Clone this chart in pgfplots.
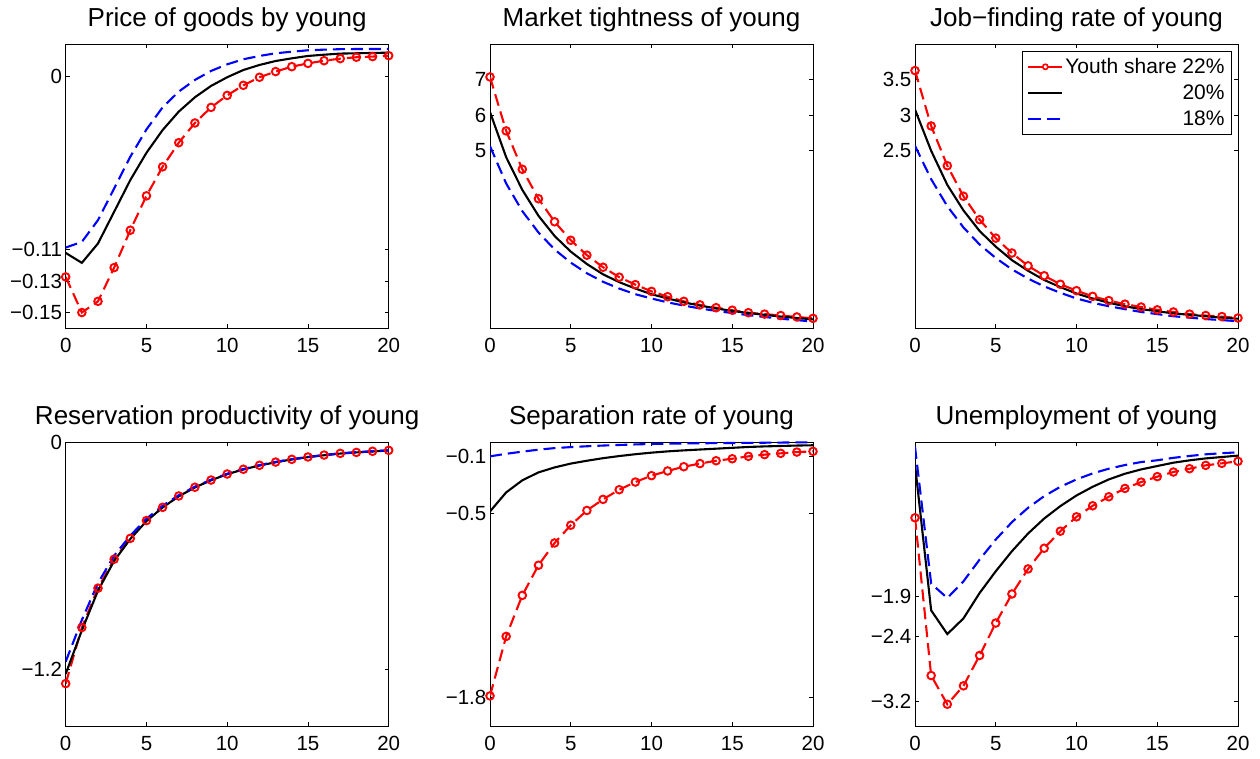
\documentclass[border=0pt]{standalone}
\usepackage{fontspec}
\setmainfont{Liberation Sans}
\usepackage{pgfplots}
\pgfplotsset{compat=1.18}
\pgfplotsset{
 panel/.style={
  width=323pt, height=284pt, scale only axis, anchor=south west,
  xmin=0, xmax=20, xtick={0,5,10,15,20},
  tick align=inside, major tick length=4pt,
  axis line style={line width=0.9pt},
  every tick/.style={black, line width=0.8pt},
  ticklabel style={font=\fontsize{20.5}{24}\selectfont, inner sep=0pt},
  xticklabel style={yshift=-9.7pt},
  yticklabel style={xshift=-3.5pt},
  every axis title shift=0pt,
  title style={font=\fontsize{26}{30}\selectfont, at={(0.5,1)}, anchor=base, yshift=17.5pt, inner sep=0pt},
  /pgf/number format/assume math mode=true,
 },
 rr/.style={red, line width=2.1pt, dash pattern=on 12pt off 6pt, mark=o, mark size=3.8pt, mark options={solid, line width=1.9pt}},
 kk/.style={black, line width=2.1pt, solid, mark=none},
 bb/.style={blue, line width=2.1pt, dash pattern=on 12pt off 6pt, mark=none},
}
\begin{document}
\begin{tikzpicture}
\path[use as bounding box] (0pt,0pt) rectangle (1260pt,758pt);

% Panel 1
\begin{axis}[panel, at={(65.7pt,429.7pt)}, title={Price of goods by young},
  ymin=-0.16, ymax=0.0201, ytick={-0.15,-0.13,-0.11,0}, yticklabels={−0.15,−0.13,−0.11,0}]
\addplot[rr] coordinates {(0,-0.1274) (1,-0.150) (2,-0.1429) (3,-0.1215) (4,-0.0978) (5,-0.076) (6,-0.0576) (7,-0.0423) (8,-0.0298) (9,-0.0199) (10,-0.0123) (11,-0.0059) (12,-0.0008) (13,0.0028) (14,0.0059) (15,0.008) (16,0.0097) (17,0.011) (18,0.0119) (19,0.0123) (20,0.0129)};
\addplot[kk] coordinates {(0,-0.1122) (1,-0.1185) (2,-0.1062) (3,-0.0861) (4,-0.066) (5,-0.0487) (6,-0.0343) (7,-0.0226) (8,-0.0135) (9,-0.0063) (10,-0.0008) (11,0.0038) (12,0.007) (13,0.0095) (14,0.0112) (15,0.0127) (16,0.0135) (17,0.0142) (18,0.0144) (19,0.0146) (20,0.0148)};
\addplot[bb] coordinates {(0,-0.1088) (1,-0.1052) (2,-0.0914) (3,-0.0713) (4,-0.0512) (5,-0.0339) (6,-0.0199) (7,-0.0099) (8,-0.0025) (9,0.0032) (10,0.0074) (11,0.0106) (12,0.0127) (13,0.0144) (14,0.0154) (15,0.0163) (16,0.0167) (17,0.0170) (18,0.0171) (19,0.0171) (20,0.0171)};
\end{axis}

% Panel 2
\begin{axis}[panel, at={(490pt,429.7pt)}, title={Market tightness of young},
  ymin=0, ymax=8, ytick={5,6,7}, yticklabels={5,6,7}]
\addplot[rr] coordinates {(0,7.08) (1,5.56) (2,4.48) (3,3.65) (4,3.0) (5,2.48) (6,2.06) (7,1.72) (8,1.44) (9,1.23) (10,1.04) (11,0.89) (12,0.76) (13,0.66) (14,0.58) (15,0.51) (16,0.44) (17,0.40) (18,0.36) (19,0.32) (20,0.28)};
\addplot[kk] coordinates {(0,6.09) (1,4.82) (2,3.90) (3,3.17) (4,2.60) (5,2.16) (6,1.81) (7,1.52) (8,1.30) (9,1.12) (10,0.96) (11,0.84) (12,0.73) (13,0.64) (14,0.56) (15,0.49) (16,0.43) (17,0.38) (18,0.33) (19,0.29) (20,0.25)};
\addplot[bb] coordinates {(0,5.13) (1,4.08) (2,3.30) (3,2.70) (4,2.22) (5,1.85) (6,1.55) (7,1.31) (8,1.12) (9,0.96) (10,0.84) (11,0.73) (12,0.64) (13,0.56) (14,0.49) (15,0.43) (16,0.37) (17,0.32) (18,0.27) (19,0.23) (20,0.19)};
\end{axis}

% Panel 3
\begin{axis}[panel, at={(915pt,429.7pt)}, title={Job−finding rate of young},
  ymin=0, ymax=4, ytick={2.5,3,3.5}, yticklabels={2.5,3,3.5},
  legend style={at={(1,1)}, anchor=north east, xshift=-6pt, yshift=-6.7pt, draw=black, line width=0.9pt,
    font=\fontsize{21}{24}\selectfont, inner sep=5pt, row sep=6pt, cells={anchor=west},
    nodes={inner sep=2pt}},
  legend image code/.code={\draw[#1, dash pattern=on 13pt off 5pt] (0pt,0pt) -- (34pt,0pt);}]
\addplot[rr, legend image code/.code={\draw[red, line width=2pt, solid] (0pt,0pt) -- (34pt,0pt); \draw[red, line width=1.6pt, solid, fill=white] (17pt,0pt) circle (2.6pt);}] coordinates {(0,3.63) (1,2.85) (2,2.29) (3,1.86) (4,1.53) (5,1.27) (6,1.06) (7,0.88) (8,0.74) (9,0.62) (10,0.53) (11,0.45) (12,0.39) (13,0.34) (14,0.30) (15,0.26) (16,0.23) (17,0.20) (18,0.18) (19,0.165) (20,0.145)};
\addlegendentry{Youth share 22\%}
\addplot[kk, legend image code/.code={\draw[black, line width=2.1pt, solid] (0pt,0pt) -- (34pt,0pt);}] coordinates {(0,3.08) (1,2.50) (2,2.02) (3,1.66) (4,1.37) (5,1.15) (6,0.96) (7,0.81) (8,0.68) (9,0.58) (10,0.49) (11,0.42) (12,0.36) (13,0.31) (14,0.27) (15,0.24) (16,0.21) (17,0.19) (18,0.17) (19,0.15) (20,0.135)};
\addlegendentry{\hphantom{Youth share }20\%}
\addplot[bb, legend image code/.code={\draw[blue, line width=2.1pt, dash pattern=on 13pt off 6pt] (0pt,0pt) -- (34pt,0pt);}] coordinates {(0,2.57) (1,2.10) (2,1.72) (3,1.42) (4,1.18) (5,0.99) (6,0.83) (7,0.70) (8,0.59) (9,0.50) (10,0.42) (11,0.36) (12,0.31) (13,0.27) (14,0.23) (15,0.20) (16,0.17) (17,0.15) (18,0.13) (19,0.115) (20,0.10)};
\addlegendentry{\hphantom{Youth share }18\%}
\end{axis}

% Panel 4
\begin{axis}[panel, at={(65.7pt,32pt)}, title={Reservation productivity of young},
  ymin=-1.5, ymax=0, ytick={-1.2,0}, yticklabels={−1.2,0}]
\addplot[rr] coordinates {(0,-1.276) (1,-0.980) (2,-0.772) (3,-0.619) (4,-0.509) (5,-0.415) (6,-0.345) (7,-0.285) (8,-0.239) (9,-0.201) (10,-0.169) (11,-0.144) (12,-0.123) (13,-0.106) (14,-0.0915) (15,-0.079) (16,-0.069) (17,-0.060) (18,-0.055) (19,-0.049) (20,-0.044)};
\addplot[kk] coordinates {(0,-1.225) (1,-0.995) (2,-0.785) (3,-0.628) (4,-0.512) (5,-0.418) (6,-0.346) (7,-0.287) (8,-0.240) (9,-0.202) (10,-0.170) (11,-0.145) (12,-0.124) (13,-0.107) (14,-0.092) (15,-0.080) (16,-0.070) (17,-0.061) (18,-0.055) (19,-0.050) (20,-0.045)};
\addplot[bb] coordinates {(0,-1.16) (1,-0.94) (2,-0.745) (3,-0.600) (4,-0.495) (5,-0.405) (6,-0.337) (7,-0.281) (8,-0.236) (9,-0.199) (10,-0.168) (11,-0.143) (12,-0.122) (13,-0.105) (14,-0.091) (15,-0.079) (16,-0.069) (17,-0.060) (18,-0.054) (19,-0.049) (20,-0.044)};
\end{axis}

% Panel 5
\begin{axis}[panel, at={(490pt,32pt)}, title={Separation rate of young},
  ymin=-2, ymax=0, ytick={-1.8,-0.5,-0.1}, yticklabels={−1.8,−0.5,−0.1}]
\addplot[rr] coordinates {(0,-1.788) (1,-1.369) (2,-1.08) (3,-0.868) (4,-0.711) (5,-0.586) (6,-0.482) (7,-0.404) (8,-0.336) (9,-0.282) (10,-0.237) (11,-0.204) (12,-0.174) (13,-0.152) (14,-0.132) (15,-0.118) (16,-0.101) (17,-0.089) (18,-0.080) (19,-0.071) (20,-0.066)};
\addplot[kk] coordinates {(0,-0.489) (1,-0.355) (2,-0.27) (3,-0.214) (4,-0.179) (5,-0.152) (6,-0.132) (7,-0.114) (8,-0.099) (9,-0.086) (10,-0.075) (11,-0.066) (12,-0.059) (13,-0.053) (14,-0.047) (15,-0.041) (16,-0.035) (17,-0.031) (18,-0.028) (19,-0.025) (20,-0.023)};
\addplot[bb] coordinates {(0,-0.101) (1,-0.083) (2,-0.068) (3,-0.054) (4,-0.043) (5,-0.036) (6,-0.030) (7,-0.025) (8,-0.021) (9,-0.017) (10,-0.014) (11,-0.012) (12,-0.010) (13,-0.009) (14,-0.008) (15,-0.007) (16,-0.006) (17,-0.005) (18,-0.004) (19,-0.003) (20,-0.002)};
\end{axis}

% Panel 6
\begin{axis}[panel, at={(915pt,32pt)}, title={Unemployment of young},
  ymin=-3.5, ymax=0, ytick={-3.2,-2.4,-1.9}, yticklabels={−3.2,−2.4,−1.9}]
\addplot[rr] coordinates {(0,-0.934) (1,-2.878) (2,-3.232) (3,-3.005) (4,-2.631) (5,-2.231) (6,-1.873) (7,-1.564) (8,-1.309) (9,-1.099) (10,-0.922) (11,-0.786) (12,-0.675) (13,-0.572) (14,-0.494) (15,-0.427) (16,-0.37) (17,-0.329) (18,-0.288) (19,-0.263) (20,-0.238)};
\addplot[kk] coordinates {(0,-0.28) (1,-2.075) (2,-2.367) (3,-2.174) (4,-1.861) (5,-1.593) (6,-1.346) (7,-1.128) (8,-0.943) (9,-0.79) (10,-0.659) (11,-0.552) (12,-0.461) (13,-0.391) (14,-0.338) (15,-0.296) (16,-0.255) (17,-0.226) (18,-0.202) (19,-0.185) (20,-0.168)};
\addplot[bb] coordinates {(0,-0.06) (1,-1.746) (2,-1.923) (3,-1.717) (4,-1.449) (5,-1.202) (6,-0.988) (7,-0.811) (8,-0.667) (9,-0.552) (10,-0.461) (11,-0.387) (12,-0.329) (13,-0.284) (14,-0.247) (15,-0.225) (16,-0.195) (17,-0.172) (18,-0.152) (19,-0.138) (20,-0.127)};
\end{axis}
\end{tikzpicture}
\end{document}
